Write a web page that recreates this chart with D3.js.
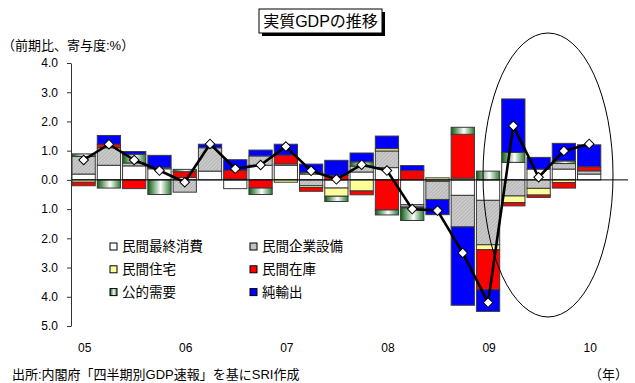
<!DOCTYPE html>
<html>
<head>
<meta charset="utf-8">
<script src="https://cdn.jsdelivr.net/npm/d3@7"></script>
<style>
  html, body { margin: 0; padding: 0; background: #fff; }
  svg { display: block; font-family: "Liberation Sans", "Noto Sans CJK JP", sans-serif; }
</style>
</head>
<body>
<svg id="chart" width="635" height="383"></svg>
<script>
// Quarterly contributions to real GDP growth (q/q, %), 2005Q1 - 2010Q1
const quarters = ["05Q1","05Q2","05Q3","05Q4","06Q1","06Q2","06Q3","06Q4",
                  "07Q1","07Q2","07Q3","07Q4","08Q1","08Q2","08Q3","08Q4",
                  "09Q1","09Q2","09Q3","09Q4","10Q1"];
const yearTicks = ["05Q1","06Q1","07Q1","08Q1","09Q1","10Q1"];

const consumption  = [0.20, 0.50, 0.48, 0.38, 0.08, 0.30, -0.30, 0.50, 0.50, 0.20, -0.28, 0.27, 0.42, -0.85, -0.05, -0.53, -0.70, 0.60, 0.37, 0.37, 0.20];
const capex        = [0.60, 0.60, 0.10, 0.04, -0.42, 0.80, 0.03, 0.32, 0.05, -0.20, 0.00, 0.20, 0.57, -0.08, -0.62, -1.08, -1.52, -0.55, -0.29, 0.19, 0.11];
const housing      = [-0.08, 0.00, 0.00, 0.00, 0.00, 0.00, 0.00, 0.00, -0.08, -0.06, -0.28, -0.38, 0.08, -0.03, 0.07, 0.06, -0.17, -0.23, -0.23, -0.09, 0.00];
const inventory    = [-0.12, 0.12, -0.30, 0.00, 0.20, 0.00, 0.30, -0.28, 0.30, -0.13, 0.15, -0.13, -1.03, 0.32, 0.00, 1.50, -1.37, -0.11, -0.08, -0.19, 0.14];
const publicDemand = [0.09, -0.28, 0.30, -0.50, 0.08, 0.00, 0.00, -0.22, 0.00, 0.06, -0.18, 0.15, -0.17, -0.43, 0.00, 0.24, 0.30, 0.34, 0.00, 0.09, 0.00];
const netExports   = [0.00, 0.30, 0.09, 0.42, 0.00, 0.12, 0.36, 0.20, 0.37, 0.28, 0.52, 0.30, 0.43, 0.17, -0.52, -2.68, -0.74, 1.83, 0.40, 0.60, 0.75];
const realGdp      = [0.68, 1.22, 0.68, 0.32, -0.08, 1.23, 0.38, 0.51, 1.14, 0.31, 0.02, 0.52, 0.32, -1.00, -1.05, -2.50, -4.20, 1.85, 0.09, 0.99, 1.23];

const seriesKeys  = ["consumption","capex","housing","inventory","publicDemand","netExports"];
const seriesNames = ["民間最終消費","民間企業設備","民間住宅","民間在庫","公的需要","純輸出"];
const yTicks = [4, 3, 2, 1, 0, -1, -2, -3, -4, -5];

const seriesValues = { consumption, capex, housing, inventory, publicDemand, netExports };
const rows = quarters.map((q, i) => {
  const r = { q };
  seriesKeys.forEach(k => r[k] = seriesValues[k][i]);
  return r;
});

const svg = d3.select("#chart");

// fills
const defs = svg.append("defs");
const hatch = defs.append("pattern")
  .attr("id", "hatch").attr("width", 2.5).attr("height", 2.5)
  .attr("patternUnits", "userSpaceOnUse").attr("patternTransform", "rotate(45)");
hatch.append("rect").attr("width", 2.5).attr("height", 2.5).attr("fill", "#cbcbcb");
hatch.append("line").attr("x1", 0).attr("y1", 0).attr("x2", 0).attr("y2", 2.5)
  .attr("stroke", "#9c9c9c").attr("stroke-width", 0.9);

const grad = defs.append("linearGradient").attr("id", "pubGrad")
  .attr("x1", 0).attr("x2", 1).attr("y1", 0).attr("y2", 0);
grad.append("stop").attr("offset", "0%").attr("stop-color", "#0b5e12");
grad.append("stop").attr("offset", "55%").attr("stop-color", "#ffffff");
grad.append("stop").attr("offset", "100%").attr("stop-color", "#2a7a30");

const fills = {
  consumption: "#ffffff",
  capex: "url(#hatch)",
  housing: "#ffff99",
  inventory: "#ff0000",
  publicDemand: "url(#pubGrad)",
  netExports: "#0000ff"
};

// scales
const x = d3.scaleBand().domain(quarters).range([71, 601.8]).paddingInner(0.08).paddingOuter(0.04);
const y = d3.scaleLinear().domain([-5, 4]).range([326, 63]);
const bw = x.bandwidth();

// stacked bars (positives up, negatives down)
const stacked = d3.stack().keys(seriesKeys).offset(d3.stackOffsetDiverging)(rows);
svg.append("g").selectAll("g")
  .data(stacked)
  .join("g")
  .attr("fill", d => fills[d.key])
  .selectAll("rect")
  .data(d => d.filter(s => s[1] !== s[0]))
  .join("rect")
  .attr("x", d => x(d.data.q))
  .attr("width", bw)
  .attr("y", d => y(Math.max(d[0], d[1])))
  .attr("height", d => Math.abs(y(d[0]) - y(d[1])))
  .attr("stroke", "#3a3a3a")
  .attr("stroke-width", 1);

// zero line
svg.append("line")
  .attr("x1", 71).attr("x2", 628)
  .attr("y1", y(0)).attr("y2", y(0))
  .attr("stroke", "#000").attr("stroke-width", 1);

// y axis
const yAxis = svg.append("g")
  .attr("transform", "translate(71,0)")
  .call(d3.axisLeft(y).tickValues(yTicks).tickSize(4).tickSizeOuter(0).tickPadding(9)
    .tickFormat(d => Math.abs(d).toFixed(1)));
yAxis.select(".domain").attr("stroke", "#333");
yAxis.selectAll(".tick line").attr("stroke", "#333");
yAxis.selectAll("text").attr("font-size", 12).attr("fill", "#000")
  .attr("font-family", "'Liberation Sans', Arial, sans-serif");

// x axis (year labels only)
const xAxis = svg.append("g")
  .attr("transform", `translate(1,${y(-5)})`)
  .call(d3.axisBottom(x).tickValues(yearTicks).tickSize(0).tickPadding(17)
    .tickFormat(q => q.slice(0, 2)));
xAxis.select(".domain").remove();
xAxis.selectAll("text").attr("font-size", 12).attr("fill", "#000")
  .attr("font-family", "'Liberation Sans', Arial, sans-serif");

// highlight ellipse
svg.append("ellipse")
  .attr("cx", 548).attr("cy", 175).attr("rx", 65).attr("ry", 142)
  .attr("fill", "none").attr("stroke", "#000").attr("stroke-width", 1);

// real GDP line with diamond markers
const cx = q => x(q) + bw / 2;
svg.append("path")
  .datum(quarters.map((q, i) => [cx(q), y(realGdp[i])]))
  .attr("fill", "none").attr("stroke", "#000").attr("stroke-width", 2.6)
  .attr("stroke-linejoin", "round")
  .attr("d", d3.line());
svg.append("g").selectAll("path")
  .data(quarters.map((q, i) => ({ q, v: realGdp[i] })))
  .join("path")
  .attr("transform", d => `translate(${cx(d.q)},${y(d.v)}) rotate(45)`)
  .attr("d", d3.symbol(d3.symbolSquare, 46))
  .attr("fill", "#fff").attr("stroke", "#000").attr("stroke-width", 1);

// legend: two columns, three rows
const legend = svg.append("g");
const legendItems = seriesKeys.map((k, i) => ({ k, name: seriesNames[i], col: i % 2, row: Math.floor(i / 2) }));
const lg = legend.selectAll("g").data(legendItems).join("g")
  .attr("transform", d => `translate(${110 + d.col * 140},${246.5 + d.row * 22.8})`);
lg.append("rect")
  .attr("x", 0).attr("y", -3.5).attr("width", 7).attr("height", 7)
  .attr("fill", d => fills[d.k]).attr("stroke", "#000").attr("stroke-width", 1);
lg.append("text")
  .attr("x", 12).attr("y", 0).attr("dy", "0.36em")
  .attr("font-size", 13.5).attr("fill", "#000")
  .text(d => d.name);

// title box with drop shadow
const title = svg.append("g");
title.append("rect").attr("x", 262).attr("y", 12).attr("width", 123).attr("height", 24).attr("fill", "#000");
title.append("rect").attr("x", 259).attr("y", 9).attr("width", 123).attr("height", 24)
  .attr("fill", "#fff").attr("stroke", "#000").attr("stroke-width", 1);
title.append("text").attr("x", 320.5).attr("y", 21).attr("dy", "0.36em")
  .attr("text-anchor", "middle").attr("font-size", 16).attr("fill", "#000")
  .text("実質GDPの推移");

// unit label, source note, axis unit
svg.append("text").attr("x", 2).attr("y", 45).attr("dy", "0.36em")
  .attr("font-size", 13).attr("fill", "#000").text("（前期比、寄与度:%）");
svg.append("text").attr("x", 12).attr("y", 374).attr("dy", "0.36em")
  .attr("font-size", 13).attr("fill", "#000").text("出所:内閣府「四半期別GDP速報」を基にSRI作成");
svg.append("text").attr("x", 628).attr("y", 374).attr("dy", "0.36em")
  .attr("text-anchor", "end").attr("font-size", 13).attr("fill", "#000").text("（年）");
</script>
</body>
</html>
